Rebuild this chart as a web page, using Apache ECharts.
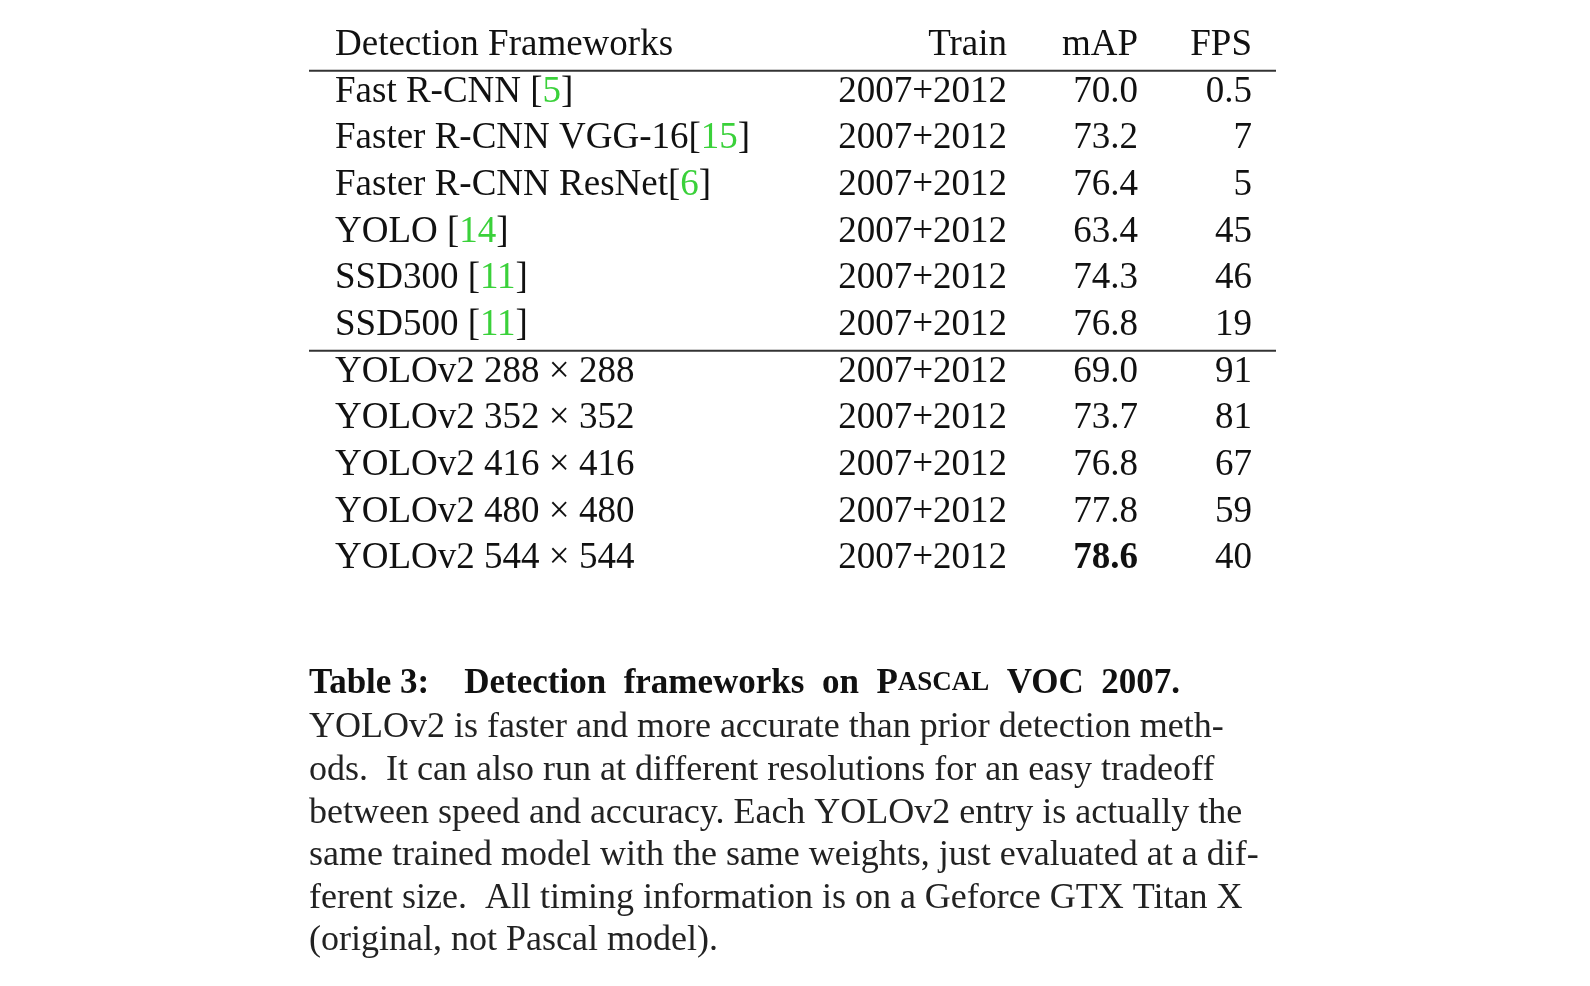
<!DOCTYPE html>
<html><head><meta charset="utf-8">
<script src="https://cdn.jsdelivr.net/npm/echarts@6/dist/echarts.min.js"></script>
<style>html,body{margin:0;background:#fff}#c{width:1590px;height:986px}</style>
</head><body><div id="c"></div>
<script>
const headers = ['Detection Frameworks','Train','mAP','FPS'];
const names = ['Fast R-CNN [','Faster R-CNN VGG-16[','Faster R-CNN ResNet[','YOLO [','SSD300 [','SSD500 [',
  'YOLOv2 288 × 288','YOLOv2 352 × 352','YOLOv2 416 × 416','YOLOv2 480 × 480','YOLOv2 544 × 544'];
const refs = ['5','15','6','14','11','11','','','','',''];
const train = Array(11).fill('2007+2012');
const mAP = [70.0,73.2,76.4,63.4,74.3,76.8,69.0,73.7,76.8,77.8,78.6];
const fps = ['0.5','7','5','45','46','19','91','81','67','59','40'];
const captionLines = [
 'YOLOv2 is faster and more accurate than prior detection meth-',
 'ods.  It can also run at different resolutions for an easy tradeoff',
 'between speed and accuracy. Each YOLOv2 entry is actually the',
 'same trained model with the same weights, just evaluated at a dif-',
 'ferent size.  All timing information is on a Geforce GTX Titan X',
 '(original, not Pascal model).'
];
const colX = [335, 1007, 1138, 1252];
const font = '"Liberation Serif","DejaVu Serif",serif';
const fs = 37;
const best = Math.max(...mAP);
const rows = ['h'].concat(names.map((_, i) => 'r' + i));
const chart = echarts.init(document.getElementById('c'));
chart.setOption({
  animation: false,
  grid: {left: 0, right: 0, top: 22, height: 560},
  xAxis: {type: 'value', min: 0, max: 1590, show: false},
  yAxis: {type: 'category', data: rows, inverse: true, show: false},
  series: [{
    type: 'custom',
    data: rows.map((_, i) => [0, i]),
    encode: {x: 0, y: 1},
    renderItem: function (params, api) {
      const i = api.value(1);
      const y = api.coord([0, i])[1];
      const h = api.size([0, 1])[1];
      const ch = [];
      const txt = (x, t, align, extra) => ch.push({type: 'text', style: Object.assign({
        x: api.coord([x, 0])[0], y: y, text: t, align: align, verticalAlign: 'middle',
        font: fs + 'px ' + font, fill: '#111'}, extra || {})});
      let cells;
      if (i === 0) cells = headers;
      else {
        const k = i - 1;
        const nm = refs[k] ? '{n|' + names[k] + '}{g|' + refs[k] + '}{n|]}' : names[k];
        cells = [nm, train[k], mAP[k].toFixed(1), fps[k]];
      }
      txt(colX[0], cells[0], 'left', {rich: {n: {fontSize: fs, fontFamily: font, fill: '#111'}, g: {fontSize: fs, fontFamily: font, fill: '#3ad13a'}}});
      txt(colX[1], cells[1], 'right');
      const bold = i > 0 && mAP[i - 1] === best;
      txt(colX[2], cells[2], 'right', bold ? {font: 'bold ' + fs + 'px ' + font} : {});
      txt(colX[3], cells[3], 'right');
      if (i === 0 || i === 6) {
        const yb = y + h / 2 + 2;
        ch.push({type: 'line', shape: {x1: api.coord([309, 0])[0], y1: yb, x2: api.coord([1276, 0])[0], y2: yb},
          style: {stroke: '#333', lineWidth: 2}});
      }
      return {type: 'group', children: ch};
    }
  }],
  graphic: [{
    type: 'text', left: 309, top: 666,
    style: {text: '{b|Table 3:    Detection  frameworks  on  P}{s|ASCAL}{b|  VOC  2007.}',
      rich: {b: {font: 'bold 35px ' + font, fill: '#111'}, s: {font: 'bold 27px ' + font, fill: '#111'}}}
  }].concat(captionLines.map((t, i) => ({
    type: 'text', left: 309, top: 710 + 42.6 * i,
    style: {text: t, font: '36px ' + font, fill: '#222'}
  })))
});
</script></body></html>
